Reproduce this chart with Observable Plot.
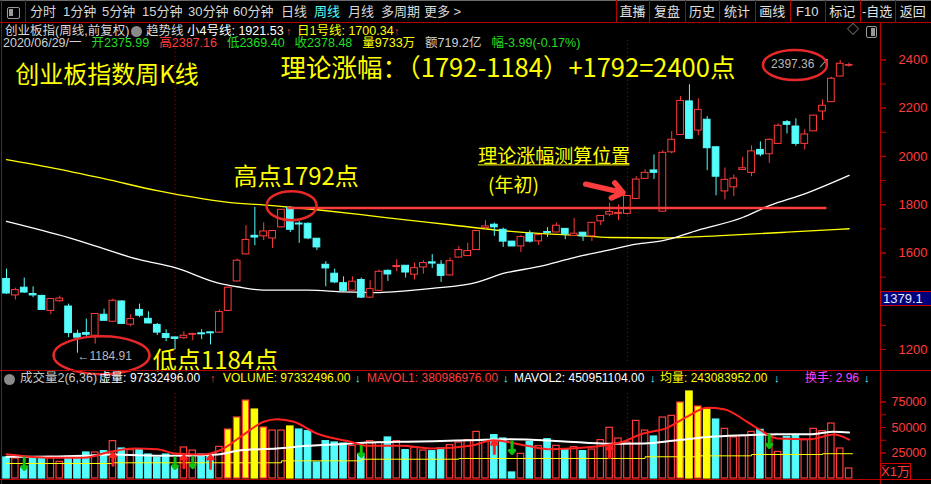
<!DOCTYPE html>
<html><head><meta charset="utf-8">
<script src="https://cdn.jsdelivr.net/npm/d3@7"></script>
<script src="https://cdn.jsdelivr.net/npm/@observablehq/plot@0.6"></script>
<style>
html,body{margin:0;padding:0;background:#000;}
#wrap{position:relative;width:931px;height:484px;overflow:hidden;background:#000;}
#wrap svg{overflow:visible;}
</style></head><body><div id="wrap"></div>
<script>
// ---------- weekly candles (index 0..95) ----------
const open  = [1492,1424,1456,1430,1422,1360,1400,1378,1265,1268,1257,1344,1315,1399,1303,1364,1327,1302,1264,1250,1247,1261,1267,1271,1270,1360,1482,1594,1671,1669,1660,1706,1786,1722,1721,1659,1551,1514,1475,1444,1488,1415,1443,1526,1542,1547,1510,1540,1561,1551,1507,1581,1587,1612,1703,1717,1696,1647,1627,1680,1648,1687,1685,1700,1671,1684,1669,1731,1759,1762,1762,1824,1907,1942,1771,2017,2089,2228,2107,2152,2038,1855,1872,1944,1932,2027,2009,2052,2142,2124,2052,2104,2186,2225,2331,2375.99];
const high  = [1533,1454,1496,1460,1425,1410,1421,1388,1280,1326,1347,1367,1409,1402,1344,1388,1356,1308,1282,1251,1274,1268,1282,1274,1364,1458,1575,1713,1789,1725,1692,1780,1792,1730,1724,1660,1564,1533,1501,1501,1496,1485,1530,1530,1572,1548,1558,1568,1593,1568,1579,1626,1641,1692,1734,1724,1703,1648,1671,1692,1677,1705,1724,1701,1743,1685,1726,1754,1806,1799,1837,1916,1945,2006,2024,2103,2248,2297,2239,2165,2039,1952,1923,1996,2044,2060,2073,2135,2149,2156,2111,2170,2234,2328,2397.36,2387.16];
const low   = [1428,1405,1432,1415,1362,1344,1396,1249,1184.91,1249,1222,1317,1313,1305,1294,1332,1306,1258,1233,1198,1241,1236,1241,1219,1268,1358,1480,1592,1630,1651,1619,1704,1685,1640,1655,1610,1460,1473,1436,1443,1411,1411,1442,1482,1522,1496,1488,1512,1536,1478,1505,1580,1586,1611,1692,1669,1623,1626,1602,1641,1631,1664,1684,1655,1670,1648,1648,1713,1750,1734,1757,1822,1906,1904,1770,2010,2088,2071,2086,1941,1837,1820,1833,1943,1916,1999,1971,2050,2093,2042,2027,2103,2149,2223,2330,2369.40];
const close = [1432,1446,1436,1424,1364,1409,1411,1268,1249,1261,1347,1319,1402,1306,1326,1340,1308,1270,1248,1244,1257,1264,1263,1267,1355,1456,1568,1654,1664,1689,1691,1779,1696,1718,1660,1623,1536,1478,1443,1481,1415,1450,1522,1511,1546,1519,1537,1558,1556,1505,1566,1612,1608,1691,1710,1706,1647,1627,1666,1647,1674,1683,1713,1677,1680,1669,1725,1753,1770,1766,1836,1904,1932,1932,2015,2069,2230,2073,2193,2034,1916,1903,1908,1951,2021,2008,2069,2127,2131,2052,2091,2169,2210,2322,2384,2378.48];
// ---------- weekly volume (x1万) ----------
const volume = [20600,19600,9800,20300,20300,21200,16300,21200,21200,25500,25500,26800,36600,29400,27800,28700,23500,20300,23500,11400,30400,27400,23500,22200,31000,48000,59800,76400,67600,50000,47000,47000,51000,48000,46400,15700,36600,35300,34300,32000,23500,36600,35300,40200,36600,27800,30400,27400,26800,29400,32700,35300,37600,45700,37600,42500,39200,5900,24200,35900,31700,38500,32000,28700,30700,26800,28400,37600,49700,39200,35300,56500,47000,41200,59800,61400,74500,85300,70600,67600,57800,48700,40200,41500,45700,47700,42500,26100,40800,41500,37600,48700,46400,53900,29400,9800];
const highlightVol = [25,26,27,28,29,32,76,77,78,79];
// ---------- price moving averages (read at candle positions) ----------
const ma4Idx = [0,7,15,19,24,26,29,34,38,42,45,48,53,56,60,64,68,71,74,78,83,86,90,95];
const ma4Val = [1731,1664,1572,1539,1474,1460,1446,1446,1439,1436,1443,1453,1478,1515,1543,1581,1613,1637,1651,1695,1747,1796,1845,1921.53];
const ma1Idx = [0,5,11,17,25,30,35,40,44,50,56,60,64,68,74,80,88,95];
const ma1Val = [1987,1954,1908,1858,1810,1796,1779,1759,1741,1717,1692,1681,1674,1664,1662,1671,1686,1700.34];
// ---------- volume averages ----------
const mavol1Idx = [0,5,8.7,11.7,14.4,17,19,21.9,24.1,26.4,29,30.5,32.4,35,38.8,40.7,44.4,48.2,52.3,54.9,58.7,61.3,66.2,69.2,71.8,74.5,76.7,79,80.9,83.5,85,86.9,90.6,93.3,95];
const mavol1Val = [23800,20300,20300,26200,29400,28700,24500,23500,27700,40900,55600,58100,55600,44100,36000,32000,32000,29400,32000,37500,32000,28700,31100,35300,44100,49700,60500,69300,67900,55600,47300,39200,38500,43100,38099];
const mavol2Idx = [0,3,8.7,11.7,18.1,23.8,26.4,30.5,33.9,36.9,40.7,44.4,48.2,52.3,56.8,62.5,68.1,71.9,75.6,79.4,83.1,86.9,90.6,93.3,95];
const mavol2Val = [21300,21300,22200,23500,22200,23500,27700,29400,32000,33300,35300,36000,36600,37500,38500,36600,34000,34300,37500,40900,42400,43400,43400,45800,45095];
const avgIdx = [0,12,31,40,51,72,78,84,92,95.4];
const avgVal = [14700,15400,17300,18900,19600,21300,22200,23500,24308,24308];
// ---------- signal arrows in volume panel ----------
const downIdx = [2,19,21,40,57,86], downFrom = [20300,20300,21200,31400,36300,42400], downTo = [8800,9800,10500,21600,24500,30400];
const upIdx = [12,20,23,55,68], upFrom = [13100,10500,9800,24500,20300], upTo = [24500,22200,22200,36600,32000];
// ---------- axis ticks (1400 lies under the 1379.1 cursor box) ----------
const priceTicks = [1200,1600,1800,2000,2200,2400];
const priceMinor = [1200,1300,1400,1500,1600,1700,1800,1900,2000,2100,2200,2300,2400];
const volTicks = [25000,50000,75000];
const volMinor = [12500,25000,37500,50000,62500,75000];
// ---------- info line ----------
const infoItems = ["2020/06/29/一","开2375.99","高2387.16","低2369.40","收2378.48","量9733万","额719.2亿","幅-3.99(-0.17%)"];
const infoColors = ["#d0d0d0","#22dd22","#ff3c3c","#22dd22","#22dd22","#ffff00","#d0d0d0","#22dd22"];
// ---------- annotations ----------
const yearDividers = [19,70];
const theoryLine = 1786, theoryFrom = 31.7, theoryTo = 92.5;
const annoText = ["创业板指数周K线","理论涨幅：（1792-1184）+1792=2400点","高点1792点","低点1184点","理论涨幅测算位置","(年初)"];
const annoIdx  = [1.0,30.9,25.6,16.5,53.2,54.3];
const annoPrice= [2335,2364,1912,1152,1999,1879];
const annoSize = [24,25.5,24,24,19,19];
const markText = ["←1184.91","2397.36 ↗"];
const markIdx = [8.0,86.2], markPrice = [1174,2381];
const ellIdx = [10.77,32.2,88.95], ellPrice = [1174,1794,2377], ellRx=[48,25,32], ellRy=[19,14.5,15];

const RED="#ff3c3c", CYAN="#54fcfc", YEL="#ffff00", FRAME="#b40000";
const CJK = '"Noto Sans CJK SC", sans-serif';
const NUM = '"Liberation Sans", "Noto Sans CJK SC", sans-serif';
const X = {domain:[0,95], range:[6,848.6], axis:null};
const idx = d3.range(open.length);
const candles = idx.map(i => ({i, o:open[i], h:high[i], l:low[i], c:close[i], up: close[i] >= open[i]}));
const pts = (a,b) => a.map((x,k)=>({x, y:b[k]}));

const price = Plot.plot({
  width:931, height:370, marginTop:0, marginBottom:0, marginLeft:0, marginRight:51,
  style:{background:"transparent", color:RED, fontFamily:NUM, overflow:"visible"},
  x:X, y:{domain:[1200,2400], range:[349,59.4], axis:null}, color:{type:"identity"},
  marks:[
    Plot.ruleX(yearDividers, {x:d=>d, y1:1151, y2:2488, stroke:"#c00000", strokeDasharray:"1,3"}),
    Plot.line(pts(ma1Idx,ma1Val), {x:"x", y:"y", stroke:YEL, strokeWidth:1.3, curve:"monotone-x"}),
    Plot.line(pts(ma4Idx,ma4Val), {x:"x", y:"y", stroke:"#ffffff", strokeWidth:1.3, curve:"monotone-x"}),
    Plot.ruleX(candles, {x:"i", y1:"l", y2:"h", stroke:d=>d.up?RED:CYAN}),
    Plot.rect(candles, {x1:d=>d.i-0.38, x2:d=>d.i+0.38, y1:"o", y2:"c", fill:d=>d.up?"#000":CYAN, stroke:d=>d.up?RED:CYAN}),
    Plot.ruleY([theoryLine], {x1:theoryFrom, x2:theoryTo, stroke:RED, strokeWidth:2.5}),
    Plot.text(annoText, {x:(d,k)=>annoIdx[k], y:(d,k)=>annoPrice[k], text:d=>d, fontSize:(d,k)=>annoSize[k], fill:YEL, textAnchor:"start", lineAnchor:"middle", fontFamily:CJK}),
    Plot.ruleY([1965], {x1:53.2, x2:70.3, stroke:YEL, strokeWidth:1}),
    Plot.text(markText, {x:(d,k)=>markIdx[k], y:(d,k)=>markPrice[k], text:d=>d, fontSize:12, fill:"#b8b8b8", textAnchor:"start", lineAnchor:"middle", fontFamily:NUM}),
    Plot.arrow([{x1:65.3,y1:1885,x2:69.5,y2:1850}], {x1:"x1",y1:"y1",x2:"x2",y2:"y2", stroke:RED, strokeWidth:5.5, headLength:13, headAngle:75}),
    Plot.axisY({anchor:"right", ticks:priceMinor, tickSize:5, text:null, stroke:"#c00000"}),
    Plot.axisY({anchor:"right", ticks:priceTicks, tickSize:5, tickPadding:13, fontSize:13, tickFormat:d=>String(d), fill:RED, stroke:"#c00000"})
  ]
});
// ellipses
{
  const sx = price.scale("x"), sy = price.scale("y");
  const g = d3.select(price).append("g");
  ellIdx.forEach((v,k)=>{
    g.append("ellipse").attr("cx", sx.apply(v)).attr("cy", sy.apply(ellPrice[k])).attr("rx", ellRx[k]).attr("ry", ellRy[k])
     .attr("fill","none").attr("stroke","#e82828").attr("stroke-width",2.5);
  });
}

const bars = idx.map(i => {
  const up = close[i] >= open[i], hi = highlightVol.includes(i);
  return {i, v:volume[i], fill: hi ? YEL : (up ? "#000" : CYAN), stroke: up ? RED : (hi ? YEL : CYAN)};
});
const vol = Plot.plot({
  width:931, height:116, marginTop:0, marginBottom:0, marginLeft:0, marginRight:51,
  style:{background:"transparent", color:RED, fontFamily:NUM, overflow:"visible"},
  x:X, y:{domain:[0,75000], range:[110,33.5], axis:null}, color:{type:"identity"},
  marks:[
    Plot.ruleX(yearDividers, {x:d=>d, y1:0, y2:85000, stroke:"#c00000", strokeDasharray:"1,3"}),
    Plot.rect(bars, {x1:d=>d.i-0.36, x2:d=>d.i+0.36, y1:()=>0, y2:"v", fill:"fill", stroke:"stroke", strokeWidth:1.2}),
    Plot.line(pts(avgIdx,avgVal), {x:"x", y:"y", stroke:YEL, strokeWidth:1, curve:"step-after"}),
    Plot.line(pts(mavol2Idx,mavol2Val), {x:"x", y:"y", stroke:"#ffffff", strokeWidth:2, curve:"monotone-x"}),
    Plot.line(pts(mavol1Idx,mavol1Val), {x:"x", y:"y", stroke:"#ff2020", strokeWidth:2, curve:"monotone-x"}),
    Plot.arrow(downIdx.map((v,k)=>({x:v, a:downFrom[k], b:downTo[k]})), {x1:"x", x2:"x", y1:"a", y2:"b", stroke:"#10c010", strokeWidth:3, headLength:8, headAngle:80}),
    Plot.arrow(upIdx.map((v,k)=>({x:v, a:upFrom[k], b:upTo[k]})), {x1:"x", x2:"x", y1:"a", y2:"b", stroke:"#ff2020", strokeWidth:3, headLength:8, headAngle:80}),
    Plot.axisY({anchor:"right", ticks:volMinor, tickSize:5, text:null, stroke:"#c00000"}),
    Plot.axisY({anchor:"right", ticks:volTicks, tickSize:5, tickPadding:6, fontSize:12.5, tickFormat:d=>String(d), fill:RED, stroke:"#c00000"})
  ]
});

const wrap = document.getElementById("wrap");
function place(node, top){ const d=document.createElement("div"); d.style.cssText=`position:absolute;left:0;top:${top}px;`; d.appendChild(node); wrap.appendChild(d); }
place(price, 0); place(vol, 368);
function el(css, text){ const e=document.createElement("div"); e.style.cssText="position:absolute;white-space:nowrap;line-height:1;"+css; if(text!=null) e.textContent=text; wrap.appendChild(e); return e; }
function txt(x, cy, s, color, size=13, font=CJK){ return el(`left:${x}px;top:${cy-size/2-1}px;font-size:${size}px;font-family:${font};color:${color};`, s); }
function hline(x1,x2,y,c){ el(`left:${x1}px;top:${y}px;width:${x2-x1}px;height:1px;background:${c};`); }
function vline(x,y1,y2,c){ el(`left:${x}px;top:${y1}px;width:1px;height:${y2-y1}px;background:${c};`); }

// frame
hline(0,931,0,"#6a6a6a");
hline(0,931,22,FRAME);
hline(0,931,370,FRAME);
hline(0,931,479,FRAME);
vline(1,0,484,FRAME);
vline(25,0,22,FRAME);
vline(880,22,484,FRAME);
// toolbar
const tabs = ["分时","1分钟","5分钟","15分钟","30分钟","60分钟","日线","周线","月线","多周期","更多 >"];
const tabX = [30,63,102,142,188,233,281,314,348,381,424];
tabs.forEach((t,k)=>txt(tabX[k], 12, t, t==="周线"?"#54fcfc":"#d8d8d8", 13, NUM));
el(`left:7px;top:7px;width:11px;height:10px;border:1px solid #9a9a9a;border-radius:2px;`);
el(`left:9px;top:9px;width:4px;height:7px;background:#9a9a9a;`);
const btns = ["直播","复盘","历史","统计","画线","F10","标记","-自选","返回"];
const seps = [615.7,649.3,684.7,719.3,754.7,789.7,824.7,859.7,894.7,931];
seps.slice(0,-1).forEach(x=>vline(Math.round(x),0,22,FRAME));
btns.forEach((b,k)=>el(`left:${seps[k]}px;width:${seps[k+1]-seps[k]}px;text-align:center;top:5px;font-size:13px;font-family:${NUM};color:#e0e0e0;`, b));
// row 2
txt(5, 32, "创业板指(周线,前复权)", "#d8d8d8", 12.5, NUM);
el(`left:131px;top:26px;width:11px;height:11px;border-radius:50%;background:#8a8a8a;`);
txt(146, 32, "趋势线", "#d8d8d8", 12.5, NUM);
txt(187, 32, "小4号线: 1921.53", "#ffffff", 12.5, NUM);
txt(286, 32, "↑", RED, 11, NUM);
txt(297, 32, "日1号线: 1700.34", YEL, 12.5, NUM);
txt(394, 32, "↑", RED, 11, NUM);
txt(847, 31, "◇", "#b0b0b0", 12, NUM);
el(`left:866px;top:26px;width:9px;height:10px;border:1px solid #9a9a9a;border-radius:2px;`);
el(`left:871px;top:28px;width:4px;height:8px;background:#9a9a9a;`);
// row 3 info line: each piece its own block, laid out left to right with a gap
{
  let x = 3;
  infoItems.forEach((t,k)=>{
    const e = txt(x, 44, t, infoColors[k], 12.5, NUM);
    x += e.getBoundingClientRect().width + 10;
  });
}
// price box
el(`left:880px;top:291px;width:49px;height:13px;background:#00007a;border:1px solid #d00000;color:#e8e8ff;font-size:13px;font-family:${NUM};padding-left:2px;`, "1379.1");
// volume header
el(`left:4px;top:374px;width:11px;height:11px;border-radius:50%;background:#8a8a8a;`);
txt(20, 379, "成交量2(6,36)", "#c8c8c8", 12.5, NUM);
txt(99, 379, "虚量:", "#ffffff", 12, NUM);
txt(130, 379, "97332496.00", "#ffffff", 12, NUM);
txt(210, 379, "↑", RED, 11, NUM);
txt(223, 379, "VOLUME: 97332496.00", YEL, 12, NUM);
txt(355, 379, "↓", CYAN, 11, NUM);
txt(367, 379, "MAVOL1: 380986976.00", RED, 12, NUM);
txt(503, 379, "↓", CYAN, 11, NUM);
txt(514, 379, "MAVOL2: 450951104.00", "#ffffff", 12, NUM);
txt(650, 379, "↓", CYAN, 11, NUM);
txt(660, 379, "均量: 243083952.00", YEL, 12, NUM);
txt(774, 379, "↓", CYAN, 11, NUM);
txt(805, 379, "换手: 2.96", "#ff40ff", 12, NUM);
txt(864, 379, "↓", CYAN, 11, NUM);
// X1万 box
el(`left:880px;top:463px;width:29px;height:15px;border:1px solid #d00000;color:${RED};font-size:13px;font-family:${NUM};text-align:center;line-height:15px;`, "X1万");
</script></body></html>
